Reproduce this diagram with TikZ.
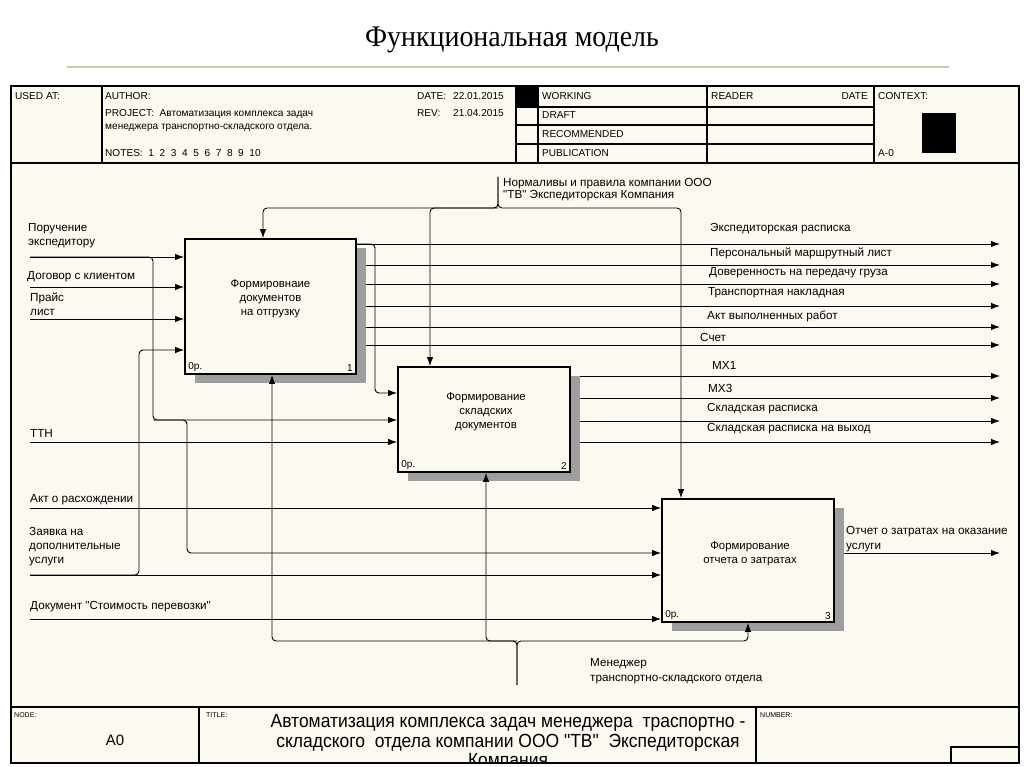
\documentclass[tikz,border=0pt]{standalone}
\usepackage{fontspec}
\setmainfont{Liberation Sans}[Ligatures=TeXOff]
\newfontfamily\titlefont{Liberation Serif}
\usetikzlibrary{arrows.meta,shadows}
\definecolor{cream}{RGB}{252,249,240}
\definecolor{olive}{RGB}{200,206,168}
\pgfdeclarelayer{bg}
\pgfsetlayers{bg,main}
\begin{document}
\begin{tikzpicture}[x=1pt,y=-1pt,
  line/.style={draw=black,line width=0.9pt},
  arr/.style={line,-{Latex[length=9pt,width=6.5pt]}},
  rc/.style={rounded corners=4pt},
  box/.style={draw=black,line width=1.8pt,fill=cream,inner sep=0pt,
     general shadow={shadow xshift=10pt,shadow yshift=-9pt,fill=black!38}},
  boxtext/.style={font=\fontsize{11.4}{14}\selectfont,align=center,inner sep=0pt},
  lbl/.style={font=\fontsize{11.7}{14}\selectfont,anchor=west,inner sep=0pt,align=left},
  hdr/.style={font=\fontsize{10.1}{10}\selectfont,anchor=west,inner sep=0pt},
  tiny/.style={font=\fontsize{7}{8}\selectfont,anchor=west,inner sep=0pt},
  corner/.style={font=\fontsize{10}{10}\selectfont,inner sep=0pt},
  frame/.style={draw=black,line width=1.6pt},
  rule/.style={draw=black,line width=1.1pt}]
\useasboundingbox (0,0) rectangle (1024,767);
\begin{pgfonlayer}{bg}
  \fill[white] (0,0) rectangle (1024,767);
  \fill[cream] (11,86) rectangle (1019,763);
\end{pgfonlayer}

% title
\node[font=\titlefont\fontsize{30}{32}\selectfont,inner sep=0pt,xscale=0.93,transform shape] (title) at (512,40) {Функциональная модель};
\draw[olive,line width=1.6pt] (67,67) -- (949,67);

% boxes
\node[box,minimum width=171pt,minimum height=135pt] (b1) at (270.5,306.5) {};
\node[box,minimum width=172pt,minimum height=105pt] (b2) at (484,419.5) {};
\node[box,minimum width=172pt,minimum height=123pt] (b3) at (748,560.5) {};
\node[boxtext] (t1) at (270.5,299) {Формировнаие\\документов\\на отгрузку};
\node[boxtext] (t2) at (486,412) {Формирование\\складских\\документов};
\node[boxtext] (t3) at (750,554) {Формирование\\отчета о затратах};
\node[corner,anchor=south west] (n1a) at ([xshift=4pt,yshift=3pt]b1.south west) {0р.};
\node[corner,anchor=south east] (n1b) at ([xshift=-4pt,yshift=3pt]b1.south east) {1};
\node[corner,anchor=south west] (n2a) at ([xshift=4pt,yshift=3pt]b2.south west) {0р.};
\node[corner,anchor=south east] (n2b) at ([xshift=-4pt,yshift=3pt]b2.south east) {2};
\node[corner,anchor=south west] (n3a) at ([xshift=4pt,yshift=3pt]b3.south west) {0р.};
\node[corner,anchor=south east] (n3b) at ([xshift=-4pt,yshift=3pt]b3.south east) {3};

% coordinates
\coordinate (i1) at (30,257);
\coordinate (i2) at (30,287);
\coordinate (i3) at (30,319);
\coordinate (i4) at (30,442);
\coordinate (i5) at (30,508);
\coordinate (i6) at (30,575);
\coordinate (i7) at (30,619);
\coordinate (j1) at (153,420);
\coordinate (j2) at (187,553);
\coordinate (j3) at (139,350);
\coordinate (j4) at (375,393);
\coordinate (o1) at (1000,244);
\coordinate (o2) at (1000,265);
\coordinate (o3) at (1000,284);
\coordinate (o4) at (1000,306);
\coordinate (o5) at (1000,327);
\coordinate (o6) at (1000,345);
\coordinate (o7) at (1000,376);
\coordinate (o8) at (1000,398);
\coordinate (o9) at (1000,421);
\coordinate (o10) at (1000,442);
\coordinate (o11) at (1000,553);
\coordinate (c0) at (498,177);
\coordinate (c1) at (498,208);
\coordinate (cL) at (263,208);
\coordinate (cR) at (681,208);
\coordinate (cM) at (430,208);
\coordinate (m0) at (517,685);
\coordinate (m1) at (517,641);
\coordinate (mL) at (272,641);
\coordinate (mR) at (748,641);
\coordinate (mM) at (486,641);

% inputs
\draw[arr] (i1) -- (i1 -| b1.west);
\draw[arr] (i2) -- (i2 -| b1.west);
\draw[arr] (i3) -- (i3 -| b1.west);
\draw[arr] (i4) -- (i4 -| b2.west);
\draw[arr] (i5) -- (i5 -| b3.west);
\draw[arr] (i6) -- (i6 -| b3.west);
\draw[arr] (i7) -- (i7 -| b3.west);
\draw[arr,rc] (i1) -- (i1 -| j1) -- (j1) -- (j1 -| b2.west);
\draw[arr,rc] (j1) -- (j1 -| j2) -- (j2) -- (j2 -| b3.west);
\draw[arr,rc] (i6) -- (i6 -| j3) -- (j3) -- (j3 -| b1.west);

% outputs (under the shadows)
\begin{pgfonlayer}{bg}
\draw[arr] (o1 -| b1.east) -- (o1);
\draw[arr] (o2 -| b1.east) -- (o2);
\draw[arr] (o3 -| b1.east) -- (o3);
\draw[arr] (o4 -| b1.east) -- (o4);
\draw[arr] (o5 -| b1.east) -- (o5);
\draw[arr] (o6 -| b1.east) -- (o6);
\draw[arr] (o7 -| b2.east) -- (o7);
\draw[arr] (o8 -| b2.east) -- (o8);
\draw[arr] (o9 -| b2.east) -- (o9);
\draw[arr] (o10 -| b2.east) -- (o10);
\draw[arr] (o11 -| b3.east) -- (o11);
\draw[arr,rc] (o1 -| b1.east) -- (o1 -| j4) -- (j4) -- (j4 -| b2.west);
\end{pgfonlayer}

% controls
\draw[arr,rc] (c0) -- (c1) -- (cL) -- (cL |- b1.north);
\draw[arr,rc] (c0) -- (c1) -- (cR) -- (cR |- b3.north);
\draw[arr,rc] (c1) -- (cM) -- (cM |- b2.north);

% mechanisms
\draw[arr,rc] (m0) -- (m1) -- (mL) -- (mL |- b1.south);
\draw[arr,rc] (m0) -- (m1) -- (mR) -- (mR |- b3.south);
\draw[arr,rc] (m1) -- (mM) -- (mM |- b2.south);

% labels
\node[lbl] (l1) at (28,236) {Поручение\\экспедитору};
\node[lbl] (l2) at (27,277) {Договор с клиентом};
\node[lbl] (l3) at (30,304.5) {Прайс\\лист};
\node[lbl] (l4) at (30,433) {ТТН};
\node[lbl] (l5) at (30,500) {Акт о расхождении};
\node[lbl] (l6) at (29,547) {Заявка на\\дополнительные\\услуги};
\node[lbl] (l7) at (30,607) {Документ "Стоимость перевозки"};
\node[lbl] (lo1) at (710,229) {Экспедиторская расписка};
\node[lbl] (lo2) at (710,253) {Персональный маршрутный лист};
\node[lbl] (lo3) at (709,273) {Доверенность на передачу груза};
\node[lbl] (lo4) at (708,293) {Транспортная накладная};
\node[lbl] (lo5) at (707,316) {Акт выполненных работ};
\node[lbl] (lo6) at (700,337) {Счет};
\node[lbl] (lo7) at (712,365) {МХ1};
\node[lbl] (lo8) at (708,388) {МХ3};
\node[lbl] (lo9) at (707,409) {Складская расписка};
\node[lbl] (lo10) at (707,429) {Складская расписка на выход};
\node[lbl,font=\fontsize{11.7}{15}\selectfont] (lo11) at (846,539) {Отчет о затратах на оказание\\услуги};
\node[lbl,font=\fontsize{11.7}{12.5}\selectfont] (lc) at (503,189.5) {Нормаливы и правила компании ООО\\"ТВ" Экспедиторская Компания};
\node[lbl,font=\fontsize{11.7}{15}\selectfont] (lm) at (590,671.5) {Менеджер\\транспортно-складского отдела};

% header
\node[hdr] (h1) at (15,96) {USED AT:};
\node[hdr] (h2) at (105,96) {AUTHOR:};
\node[hdr] (h3) at (417,96) {DATE:};
\node[hdr] (h3b) at (453,96) {22.01.2015};
\node[hdr] (h4) at (105,113.5) {PROJECT:\ \ Автоматизация комплекса задач};
\node[hdr] (h4b) at (105,128) {менеджера транспортно-складского отдела.};
\node[hdr] (h5) at (417,113.5) {REV:};
\node[hdr] (h5b) at (453,113.5) {21.04.2015};
\node[hdr] (h6) at (105,153.5) {NOTES:\ \ 1\ \ 2\ \ 3\ \ 4\ \ 5\ \ 6\ \ 7\ \ 8\ \ 9\ \ 10};
\node[hdr] (w1) at (542,96) {WORKING};
\node[hdr] (w2) at (542,115.5) {DRAFT};
\node[hdr] (w3) at (542,134.5) {RECOMMENDED};
\node[hdr] (w4) at (542,153.5) {PUBLICATION};
\node[hdr] (r1) at (711,96) {READER};
\node[hdr,anchor=east] (r2) at (868,96) {DATE};
\node[hdr] (cx) at (878,96) {CONTEXT:};
\node[hdr] (cx2) at (878,153.5) {A-0};
\fill[black] (516,86) rectangle (538,107);
\fill[black] (922,113) rectangle (956,153);

% footer
\node[tiny] (f1) at (14,715) {NODE:};
\node[tiny] (f2) at (206,715) {TITLE:};
\node[tiny] (f3) at (760,715) {NUMBER:};
\node[font=\fontsize{15}{16}\selectfont,inner sep=0pt] (f4) at (115,740) {A0};
\begin{scope}
\clip (11,707) rectangle (1019,763);
\node[font=\fontsize{19}{19.5}\selectfont,align=center,inner sep=0pt,xscale=0.92,transform shape] (ft) at (508,741) {Автоматизация комплекса задач менеджера\ \ траспортно -\\складского\ \ отдела компании ООО "ТВ"\ \ Экспедиторская\\Компания};
\end{scope}

% frame
\draw[rule] (11,163) -- (1019,163);
\draw[rule] (11,707) -- (1019,707);
\draw[rule] (102,86) -- (102,163);
\draw[rule] (516,86) -- (516,163);
\draw[rule] (538,86) -- (538,163);
\draw[rule] (707,86) -- (707,163);
\draw[rule] (874,86) -- (874,163);
\draw[rule] (516,107) -- (874,107);
\draw[rule] (516,125) -- (874,125);
\draw[rule] (516,144) -- (874,144);
\draw[rule] (199,707) -- (199,763);
\draw[rule] (756,707) -- (756,763);
\draw[rule] (951,763) |- (1019,747);
\draw[frame] (11,86) rectangle (1019,763);
\end{tikzpicture}
\end{document}
